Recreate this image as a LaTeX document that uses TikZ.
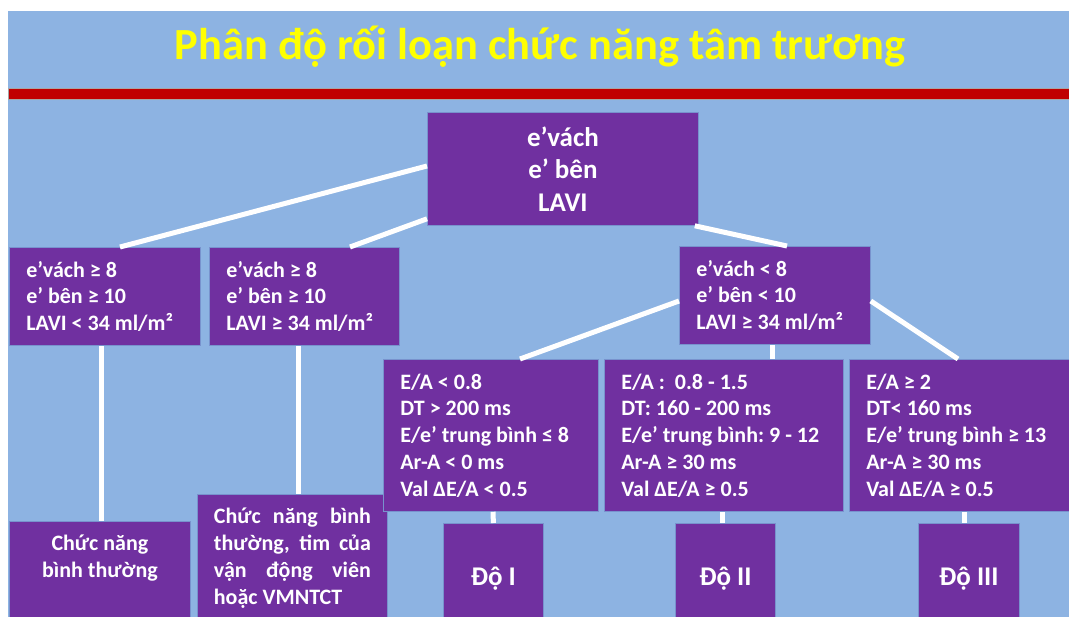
\documentclass[tikz,border=0pt]{standalone}
\usepackage{fontspec}
\setmainfont{Carlito}
\usetikzlibrary{positioning,calc}
\definecolor{bgblue}{RGB}{141,179,226}
\definecolor{boxpurple}{RGB}{112,48,160}
\definecolor{barred}{RGB}{192,0,0}
\definecolor{boxline}{RGB}{120,146,205}
\definecolor{titleyellow}{RGB}{255,255,0}

\tikzset{
  crit/.style={fill=boxpurple, draw=boxline, line width=0.8pt, text=white,
    anchor=north west, align=left, inner xsep=17pt, inner ysep=0pt,
    font=\fontsize{22}{26.7}\selectfont\bfseries,
    execute at begin node={\spaceskip=0.226em plus 0.1em\relax
      \xspaceskip=0.226em plus 0.1em\relax}},
  grade/.style={crit, align=center, inner xsep=0pt,
    font=\fontsize{27}{30}\selectfont\bfseries},
  link/.style={white, line width=5pt},
}

\begin{document}
\begin{tikzpicture}[x=1pt, y=-1pt]
  \clip (0,0) rectangle (1069,617);
  \useasboundingbox (0,0) rectangle (1069,617);
  % Background and header
  \fill[white] (0,0) rectangle (1069,617);
  \fill[bgblue] (8,11) rectangle (1069,617);
  \fill[barred, draw=gray!70, line width=0.8pt] (8,88) rectangle (1075,99);
  \node[text=titleyellow, font=\fontsize{44.5}{50}\selectfont\bfseries] (title) at (540,47)
    {Phân độ rối loạn chức năng tâm trương};

  % Top criterion
  \node[grade, minimum width=271, minimum height=113,
    font=\fontsize{27}{32.5}\selectfont\bfseries] (top) at (427,112)
    {e’vách\\e’ bên\\LAVI};

  % Second level
  \node[crit, text width=157, minimum height=98] (l1) at (9,247)
    {e’vách ≥ 8\\e’ bên ≥ 10\\LAVI < 34 ml/m²};
  \node[crit, text width=156, minimum height=98] (l2) at (209,247)
    {e’vách ≥ 8\\e’ bên ≥ 10\\LAVI ≥ 34 ml/m²};
  \node[crit, text width=157, minimum height=98] (r) at (679,246)
    {e’vách < 8\\e’ bên < 10\\LAVI ≥ 34 ml/m²};

  % Normal results
  \node[grade, minimum width=181, minimum height=110] (b1) at (9,521) {};
  \node[text=white, align=center, font=\fontsize{22}{27}\selectfont\bfseries] (b1txt)
    at ($(b1.north)+(0,37)$) {Chức năng\\bình thường};
  \node[crit, text width=157, inner xsep=16.5pt, minimum height=128,
    font=\fontsize{22}{27}\selectfont\bfseries] (b2) at (197,494)
    {\makebox[\linewidth][s]{Chức năng bình}\\
     \makebox[\linewidth][s]{thường, tim của}\\
     \makebox[\linewidth][s]{vận động viên}\\
     hoặc VMNTCT};

  % Doppler criteria
  \node[crit, text width=181, minimum height=152] (e1) at (383,359)
    {E/A < 0.8\\DT > 200 ms\\E/e’ trung bình ≤ 8\\Ar-A < 0 ms\\Val ΔE/A < 0.5};
  \node[crit, text width=205, minimum height=152] (e2) at (604,359)
    {E/A :\ \ 0.8 - 1.5\\DT: 160 - 200 ms\\E/e’ trung bình: 9 - 12\\Ar-A ≥ 30 ms\\Val ΔE/A ≥ 0.5};
  \node[crit, text width=196, minimum height=152] (e3) at (849,359)
    {E/A ≥ 2\\DT< 160 ms\\E/e’ trung bình ≥ 13\\Ar-A ≥ 30 ms\\Val ΔE/A ≥ 0.5};

  % Grades
  \node[grade, minimum width=100, minimum height=110] (d1) at (443,523) {Độ I};
  \node[grade, minimum width=100, minimum height=110] (d2) at (675,523) {Độ II};
  \node[grade, minimum width=101, minimum height=110] (d3) at (918,523) {Độ III};

  % Connectors
  \draw[link] ($(top.north west)+(0,54)$) -- ($(l1.north west)+(111,0)$);
  \draw[link] ($(top.south west)+(0,-7)$) -- ($(l2.north west)+(141,0)$);
  \draw[link] ($(top.south east)+(-4,0)$) -- ($(r.north west)+(108,0)$);
  \draw[link] ($(l1.south west)+(92,0)$) -- ($(b1.north west)+(92,0)$);
  \draw[link] ($(l2.south west)+(89,0)$) -- ($(b2.north west)+(101,0)$);
  \draw[link] ($(r.north west)+(0,55)$) -- ($(e1.north west)+(137,0)$);
  \draw[link] ($(r.south west)+(93,0)$) -- ($(e2.north west)+(168,0)$);
  \draw[link] ($(r.north east)+(0,55)$) -- ($(e3.north west)+(109,0)$);
  \draw[link] ($(e1.south west)+(110,0)$) -- (d1.north);
  \draw[link] ($(e2.south west)+(118,0)$) -- ($(d2.north west)+(47,0)$);
  \draw[link] ($(e3.south west)+(115,0)$) -- ($(d3.north west)+(46,0)$);
\end{tikzpicture}
\end{document}
